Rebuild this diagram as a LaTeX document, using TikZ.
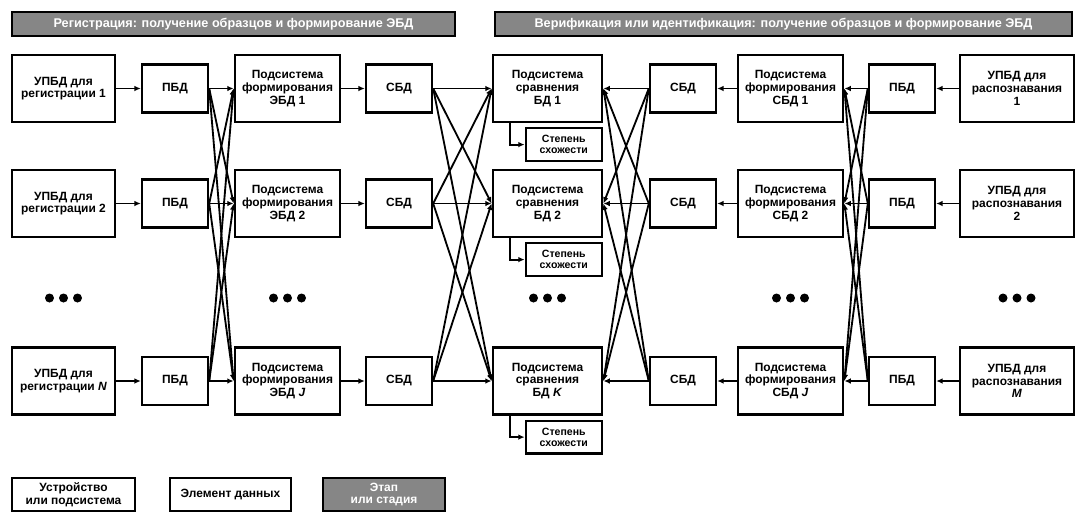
\documentclass[tikz,border=0pt]{standalone}
\usepackage{fontspec}
\setmainfont{Liberation Sans}
\usetikzlibrary{arrows.meta,positioning,calc}

\begin{document}
\begin{tikzpicture}[x=0.025cm,y=-0.025cm,>={Latex[length=4.5pt,width=4pt]},
  box/.style={draw,line width=2pt,minimum width=2.625cm,minimum height=1.675cm,align=center,font=\fontsize{8.5}{9}\selectfont\bfseries,inner sep=1pt},
  item/.style={draw,line width=1.7pt,minimum width=1.65cm,minimum height=1.2cm,align=center,font=\fontsize{8.5}{9}\selectfont\bfseries},
  score/.style={draw,line width=1.7pt,minimum width=1.9cm,minimum height=0.82cm,align=center,font=\fontsize{7.5}{8}\selectfont\bfseries,inner sep=1pt},
  phase/.style={draw,line width=1.7pt,fill=gray!95,text=white,minimum height=0.6cm,font=\fontsize{9}{9.5}\selectfont\bfseries},
  link/.style={->,line width=1.3pt}]
  \useasboundingbox (0,0) rectangle (1085,514);
  % stage headers
  \node[phase,minimum width=11.075cm] (hdrL) at (233.5,24) {Регистрация: получение образцов и формирование ЭБД};
  \node[phase,minimum width=14.425cm] (hdrR) at (783.5,24) {Верификация или идентификация: получение образцов и формирование ЭБД};
  % rows
  \foreach \i/\y/\a/\b/\c/\d in {1/88.5/1/1/1/1, 2/203.5/2/2/2/2, 3/381/\textit{N}/\textit{J}/\textit{K}/\textit{M}}{
    \node[box,minimum width=2.575cm] (uc\i) at (63.5,\y) {УПБД для\\регистрации \a};
    \node[item] (pb\i) at (175,\y) {ПБД};
    \node[box] (tg\i) at (287.5,\y) {Подсистема\\формирования\\ЭБД \b};
    \node[item] (sb\i) at (399,\y) {СБД};
    \node[box,minimum width=2.725cm] (cmp\i) at (547.5,\y) {Подсистема\\сравнения\\БД \c};
    \node[score,anchor=north east] (sc\i) at (603,\y+38.5) {Степень\\схожести};
    \node[item] (rsb\i) at (683,\y) {СБД};
    \node[box] (rtg\i) at (790.5,\y) {Подсистема\\формирования\\СБД \b};
    \node[item] (rpb\i) at (902,\y) {ПБД};
    \node[box,minimum width=2.85cm] (ruc\i) at (1017,\y) {УПБД для\\распознавания\\\d};
  }
  % links
  \foreach \i in {1,2,3}{
    \draw[link] (uc\i) -- (pb\i);
    \draw[link] (tg\i) -- (sb\i);
    \draw[link] (rtg\i) -- (rsb\i);
    \draw[link] (ruc\i) -- (rpb\i);
    \draw[link] ([xshift=0.45cm]cmp\i.south west) |- (sc\i);
    \foreach \j in {1,2,3}{
      \draw[link] (pb\i.east) -- (tg\j.west);
      \draw[link] (sb\i.east) -- (cmp\j.west);
      \draw[link] (rsb\i.west) -- (cmp\j.east);
      \draw[link] (rpb\i.west) -- (rtg\j.east);
    }
  }
  % ellipses
  \foreach \x in {63.5,287.5,547.5,790.5,1017}
    \foreach \k in {-14,0,14}
      \fill (\x+\k,298) circle (4.5);
  % legend
  \node[box,minimum width=3.075cm,minimum height=0.825cm] (lgDev) at (73.5,494.5) {Устройство\\или подсистема};
  \node[item,minimum width=3.025cm,minimum height=0.825cm] (lgData) at (230.5,494.5) {Элемент данных};
  \node[phase,align=center,minimum width=3.05cm,minimum height=0.825cm,font=\fontsize{8.5}{9}\selectfont\bfseries] (lgPhase) at (384,494.5) {Этап\\или стадия};
\end{tikzpicture}
\end{document}
